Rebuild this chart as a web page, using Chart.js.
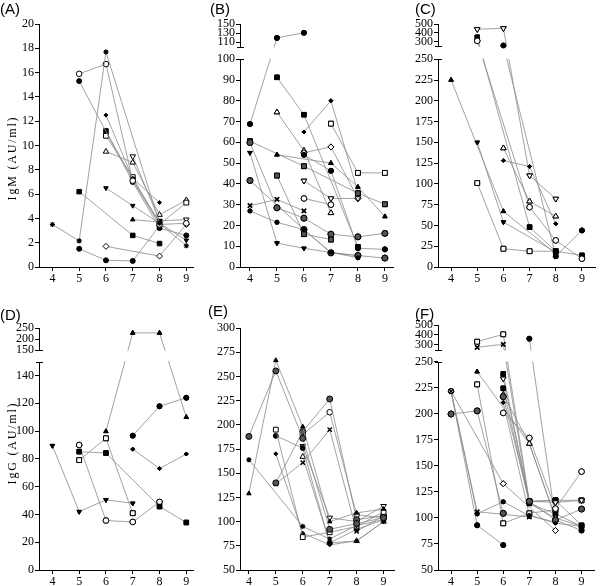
<!DOCTYPE html>
<html>
<head>
<meta charset="utf-8">
<script src="https://cdn.jsdelivr.net/npm/chart.js@4.4.1/dist/chart.umd.min.js"></script>
<style>
  html, body { margin: 0; padding: 0; background: #fff; }
  #wrap { position: relative; width: 600px; height: 586px; overflow: hidden; background: #fff; }
  #wrap canvas { position: absolute; }
  .lbl { position: absolute; font: 15px "Liberation Sans", Arial, sans-serif; line-height: 15px; color: #000; }
  .ytitle { position: absolute; width: 120px; text-align: center; font: 12px "Liberation Serif", "Times New Roman", serif;
            letter-spacing: 1.8px; line-height: 12px; color: #000; transform: rotate(-90deg); white-space: nowrap; }
</style>
</head>
<body>
<div id="wrap">
  <div class="lbl" style="left:0;top:1px">(A)</div>
  <div class="lbl" style="left:210px;top:1px">(B)</div>
  <div class="lbl" style="left:415px;top:1px">(C)</div>
  <div class="lbl" style="left:0;top:307px">(D)</div>
  <div class="lbl" style="left:208px;top:303px">(E)</div>
  <div class="lbl" style="left:415px;top:306px">(F)</div>
  <div class="ytitle" style="left:-48px;top:152px">IgM (AU/ml)</div>
  <div class="ytitle" style="left:-48px;top:437px">IgG (AU/ml)</div>
</div>
<script>
// x categories (week) shared by all panels
var weeks = [4, 5, 6, 7, 8, 9];

// y tick labels per panel
var ticksA = [0, 2, 4, 6, 8, 10, 12, 14, 16, 18, 20];
var ticksB = [0, 10, 20, 30, 40, 50, 60, 70, 80, 90, 100, 110, 130, 150];
var ticksC = [0, 25, 50, 75, 100, 125, 150, 175, 200, 225, 250, 300, 400, 500];
var ticksD = [0, 20, 40, 60, 80, 100, 120, 140, 150, 200, 250];
var ticksE = [50, 75, 100, 125, 150, 175, 200, 225, 250, 275, 300];
var ticksF = [50, 75, 100, 125, 150, 175, 200, 225, 250, 300, 400, 500];

// one row per subject: [marker, values at weeks 4..9] (null = not measured)
var seriesA = [
  ['st', [3.5, 2.15, 17.7, null, 3.6, 1.75]],
  ['oc', [null, 15.9, 16.7, 7.1, 3.5, 3.6]],
  ['fc', [null, 15.3, null, 7.0, 3.2, 2.6]],
  ['sd', [null, null, 12.5, 7.3, 5.3, null]],
  ['fs', [null, null, 11.2, 7.2, 3.7, null]],
  ['os', [null, null, 10.8, 7.4, 3.5, 5.3]],
  ['ot', [null, null, 9.5, 8.6, 4.3, 5.5]],
  ['oi', [null, null, null, 9.1, 3.8, 3.9]],
  ['fi', [null, null, 6.5, 5.05, 3.6, 2.2]],
  ['ft', [null, null, null, 3.9, 3.7, null]],
  ['fs', [null, 6.2, null, 2.6, 1.93, null]],
  ['od', [null, null, 1.7, null, 0.9, 3.5]],
  ['fc', [null, 1.5, 0.55, 0.5, 3.4, null]]
];
var seriesB = [
  ['fc', [68.8, 119.6, 130.7, null, null, null]],
  ['fs', [null, 91.3, 73.3, null, 9.7, null]],
  ['ot', [null, 74.5, 56, 26, null, null]],
  ['ft', [null, 54, null, 50, 38.5, 24.3]],
  ['sd', [null, null, 65, 80, 36, null]],
  ['os', [null, null, null, 69, 45.3, 45.3]],
  ['od', [null, null, 55, 57.8, 33, null]],
  ['gs', [60.6, null, 48.5, null, 35.5, 30.2]],
  ['gc', [59.9, 28.5, 23.5, 15.8, 14.5, 16.2]],
  ['fi', [55, 11.5, 9, 7, 5.5, null]],
  ['gc', [41.6, null, 18, 6.8, 5.5, 4.3]],
  ['x', [29.5, 32.5, 27, null, null, null]],
  ['st', [27, 21.5, 18, 7, 4.5, null]],
  ['gs', [null, 44, 15.8, 13.2, null, null]],
  ['oc', [null, null, 33, 30, null, null]],
  ['oi', [null, null, 41.5, 33, 33, null]],
  ['fc', [null, null, 54, 46.3, 9, 8.5]]
];
var seriesC = [
  ['ft', [225, null, 67, null, 16, null]],
  ['fi', [null, 150, 54, null, 18, null]],
  ['os', [null, 101, 22, 19, 19, null]],
  ['oi', [null, 441, 452, 110, 82, null]],
  ['fs', [null, 352, null, 48, 19, 14]],
  ['oc', [null, 311, null, 72, 32, 10]],
  ['fc', [null, null, 259, null, 13, 44]],
  ['ot', [null, null, 143, 79, 61, null]],
  ['sd', [null, null, 128, 121, 52, null]]
];
var seriesD = [
  ['fi', [89.5, 42, 50.5, 48, null, null]],
  ['oc', [null, 90, 35.6, 34.6, 49, null]],
  ['fs', [null, 85.2, 84.2, null, 45.7, 34.2]],
  ['os', [null, 79.1, 94.8, 40.9, null, null]],
  ['ft', [null, null, 99.8, 228, 228, 110]],
  ['fc', [null, null, null, 96.7, 117.9, 124]],
  ['sd', [null, null, null, 87, 73, 83.5]]
];
var seriesE = [
  ['gc', [188, 255.6, 186, 92, 98, 104]],
  ['st', [164, null, 95, 82, 96, 102]],
  ['ft', [129, 266.6, 198, 100, 109, 113]],
  ['os', [null, 195, 84, 89, 95, 110]],
  ['fc', [null, 188.6, 176, 78, 92, 102]],
  ['sd', [null, 170, 88, 76, 80, 100]],
  ['gc', [null, 140, 193, 226.7, 102, 106]],
  ['oc', [null, null, 190, 213, 107, 104]],
  ['oi', [null, null, 178, 104, 100, 116]],
  ['x', [null, 139, 161, 195, 90, 106]],
  ['ot', [null, null, 167, 78, 80, 100]]
];
var seriesF = [
  ['gc', [200, 203, 104.5, null, null, null]],
  ['fc', [222, 93, 74, null, null, null]],
  ['st', [222, 104, 115.7, 102, 96, null]],
  ['od', [222, null, 133, null, 88, null]],
  ['x', [222, 106, null, 101, null, null]],
  ['ft', [null, 240.7, null, 171.5, 100, null]],
  ['os', [null, 228.5, 94.9, 104.5, 108, null]],
  ['os', [null, 333, 407, 116, 117, 117]],
  ['x', [null, 277, 307, 114, 100, 92]],
  ['fc', [null, null, null, 363, 98, 88]],
  ['fs', [null, null, 238.5, 116, 117, 93]],
  ['oi', [null, null, 234, 116, 115, 117]],
  ['fs', [null, null, 224.7, 114, 104, 92]],
  ['ot', [null, null, 218.6, 171.5, 100, null]],
  ['gc', [null, null, 216.7, 116, 98, 108.6]],
  ['sd', [null, null, 211, 103, 95, 92]],
  ['oc', [null, null, 201, 177, 109, 144.6]]
];

// marker looks
var markers = {
  fc: { style: 'circle', fill: '#000', r: 2.5 },
  oc: { style: 'circle', fill: '#fff', r: 2.8 },
  gc: { style: 'circle', fill: '#555', r: 3 },
  fs: { style: 'rect', fill: '#000', r: 3.2 },
  os: { style: 'rect', fill: '#fff', r: 3.4 },
  gs: { style: 'rect', fill: '#555', r: 3.4 },
  ft: { style: 'triangle', fill: '#000', r: 2.6 },
  ot: { style: 'triangle', fill: '#fff', r: 3.2 },
  fi: { style: 'triangle', fill: '#000', r: 2.6, rot: 180 },
  oi: { style: 'triangle', fill: '#fff', r: 3.2, rot: 180 },
  sd: { style: 'rectRot', fill: '#000', r: 2 },
  od: { style: 'rectRot', fill: '#fff', r: 3 },
  x: { style: 'crossRot', fill: '#000', r: 3, bw: 1.4 },
  st: { style: 'star', fill: '#000', r: 2.6, bw: 1.2 }
};

// y scale with a broken (two-segment) axis
class BrokenScale extends Chart.LinearScale {
  _geom() {
    var b = this.options.brk;
    var h = this.bottom - this.top;
    var lowH = h * b.lowFrac, gapH = h * b.gapFrac;
    return { b: b, lowH: lowH, gapH: gapH, highH: h - lowH - gapH };
  }
  getPixelForValue(value) {
    var g = this._geom(), b = g.b;
    var low = b.tieHigh ? value < b.split : value <= b.split;
    if (low) return this.bottom - (value - this.min) / (b.split - this.min) * g.lowH;
    return this.top + g.highH * (1 - (value - b.split) / (this.max - b.split));
  }
  getValueForPixel(pixel) {
    var g = this._geom(), b = g.b;
    if (pixel >= this.bottom - g.lowH) return this.min + (this.bottom - pixel) / g.lowH * (b.split - this.min);
    return b.split + (1 - (pixel - this.top) / g.highH) * (this.max - b.split);
  }
}
BrokenScale.id = 'broken';
BrokenScale.defaults = Chart.LinearScale.defaults;
Chart.register(BrokenScale);

// hides lines in the axis gap, draws the two axis pieces, puts markers back on top
var breakPlugin = {
  id: 'breakAxis',
  afterDatasetsDraw: function (chart) {
    var y = chart.scales.y;
    if (y.type !== 'broken') return;
    var g = y._geom();
    var lowTop = y.bottom - g.lowH;
    var highBottom = y.top + g.highH;
    var ctx = chart.ctx;
    var area = chart.chartArea;
    ctx.save();
    ctx.fillStyle = '#fff';
    ctx.fillRect(area.left + 1, highBottom + 0.5, area.right - area.left + 10, lowTop - highBottom - 1);
    chart.data.datasets.forEach(function (ds, i) {
      chart.getDatasetMeta(i).data.forEach(function (pt) { pt.draw(ctx, area); });
    });
    var ax = Math.round(y.right) + 0.5;
    ctx.strokeStyle = '#000';
    ctx.lineWidth = 1;
    ctx.beginPath();
    ctx.moveTo(ax, y.bottom); ctx.lineTo(ax, Math.round(lowTop) + 0.5);
    ctx.moveTo(ax - 3.5, Math.round(lowTop) + 0.5); ctx.lineTo(ax + 3.5, Math.round(lowTop) + 0.5);
    ctx.moveTo(ax, Math.round(highBottom) + 0.5); ctx.lineTo(ax, y.top);
    ctx.moveTo(ax - 3.5, Math.round(highBottom) + 0.5); ctx.lineTo(ax + 3.5, Math.round(highBottom) + 0.5);
    ctx.stroke();
    ctx.restore();
  }
};

var panels = [
  { left: 0, top: 0, w: 200, h: 290, yw: 39, padTop: 24, padRight: 7, xh: 23, xMin: 3.5, xMax: 9.25,
    yMin: 0, yMax: 20, ticks: ticksA, series: seriesA, brk: null },
  { left: 200, top: 0, w: 200, h: 290, yw: 40, padTop: 24, padRight: 7, xh: 23, xMin: 3.63, xMax: 9.3,
    yMin: 0, yMax: 150, ticks: ticksB, series: seriesB, brk: { split: 100, lowFrac: 0.855, gapFrac: 0.051 } },
  { left: 400, top: 0, w: 200, h: 290, yw: 38, padTop: 24, padRight: 0, xh: 23, xMin: 3.5, xMax: 9.5,
    yMin: 0, yMax: 500, ticks: ticksC, series: seriesC, brk: { split: 250, lowFrac: 0.855, gapFrac: 0.053 } },
  { left: 0, top: 290, w: 200, h: 296, yw: 39, padTop: 38, padRight: 7, xh: 16, xMin: 3.5, xMax: 9.25,
    yMin: 0, yMax: 250, ticks: ticksD, series: seriesD, brk: { split: 150, lowFrac: 0.861, gapFrac: 0.047, tieHigh: true } },
  { left: 200, top: 290, w: 200, h: 296, yw: 40, padTop: 38, padRight: 5, xh: 16, xMin: 3.67, xMax: 9.41,
    yMin: 50, yMax: 300, ticks: ticksE, series: seriesE, brk: null },
  { left: 400, top: 290, w: 200, h: 296, yw: 38, padTop: 35, padRight: 0, xh: 16, xMin: 3.5, xMax: 9.5,
    yMin: 50, yMax: 500, ticks: ticksF, series: seriesF, brk: { split: 250, lowFrac: 0.849, gapFrac: 0.049 } }
];

function makeSets(series) {
  return series.map(function (s) {
    var m = markers[s[0]];
    var pts = [];
    s[1].forEach(function (v, i) { if (v != null) pts.push({ x: weeks[i], y: v }); });
    return {
      data: pts,
      borderColor: '#8a8a8a',
      borderWidth: 0.8,
      tension: 0,
      pointStyle: m.style,
      pointRadius: m.r,
      pointRotation: m.rot || 0,
      pointBackgroundColor: m.fill,
      pointBorderColor: '#000',
      pointBorderWidth: m.bw || 1
    };
  });
}

var tickFont = { family: '"Liberation Serif", "Times New Roman", serif', size: 12 };
var wrap = document.getElementById('wrap');

panels.forEach(function (p) {
  var cv = document.createElement('canvas');
  cv.width = p.w;
  cv.height = p.h;
  cv.style.left = p.left + 'px';
  cv.style.top = p.top + 'px';
  cv.style.width = p.w + 'px';
  cv.style.height = p.h + 'px';
  wrap.insertBefore(cv, wrap.firstChild);

  new Chart(cv.getContext('2d'), {
    type: 'line',
    data: { datasets: makeSets(p.series) },
    options: {
      responsive: false,
      animation: false,
      events: [],
      devicePixelRatio: 1,
      layout: { padding: { top: p.padTop, right: p.padRight, left: 0, bottom: 0 } },
      plugins: { legend: { display: false }, tooltip: { enabled: false } },
      scales: {
        x: {
          type: 'linear',
          min: p.xMin,
          max: p.xMax,
          afterBuildTicks: function (s) { s.ticks = weeks.map(function (v) { return { value: v }; }); },
          afterFit: function (s) { s.height = p.xh; },
          grid: { display: true, drawOnChartArea: false, drawTicks: true, tickLength: 4, color: '#000' },
          border: { display: true, color: '#000', width: 1 },
          ticks: { color: '#000', font: tickFont, padding: 1, maxRotation: 0, autoSkip: false }
        },
        y: {
          type: p.brk ? 'broken' : 'linear',
          brk: p.brk,
          min: p.yMin,
          max: p.yMax,
          afterBuildTicks: function (s) { s.ticks = p.ticks.map(function (v) { return { value: v }; }); },
          afterFit: function (s) { s.width = p.yw; },
          grid: { display: true, drawOnChartArea: false, drawTicks: true, tickLength: 4, color: '#000' },
          border: { display: !p.brk, color: '#000', width: 1 },
          ticks: { color: '#000', font: tickFont, padding: 1, autoSkip: false }
        }
      }
    },
    plugins: [breakPlugin]
  });
});
</script>
</body>
</html>
